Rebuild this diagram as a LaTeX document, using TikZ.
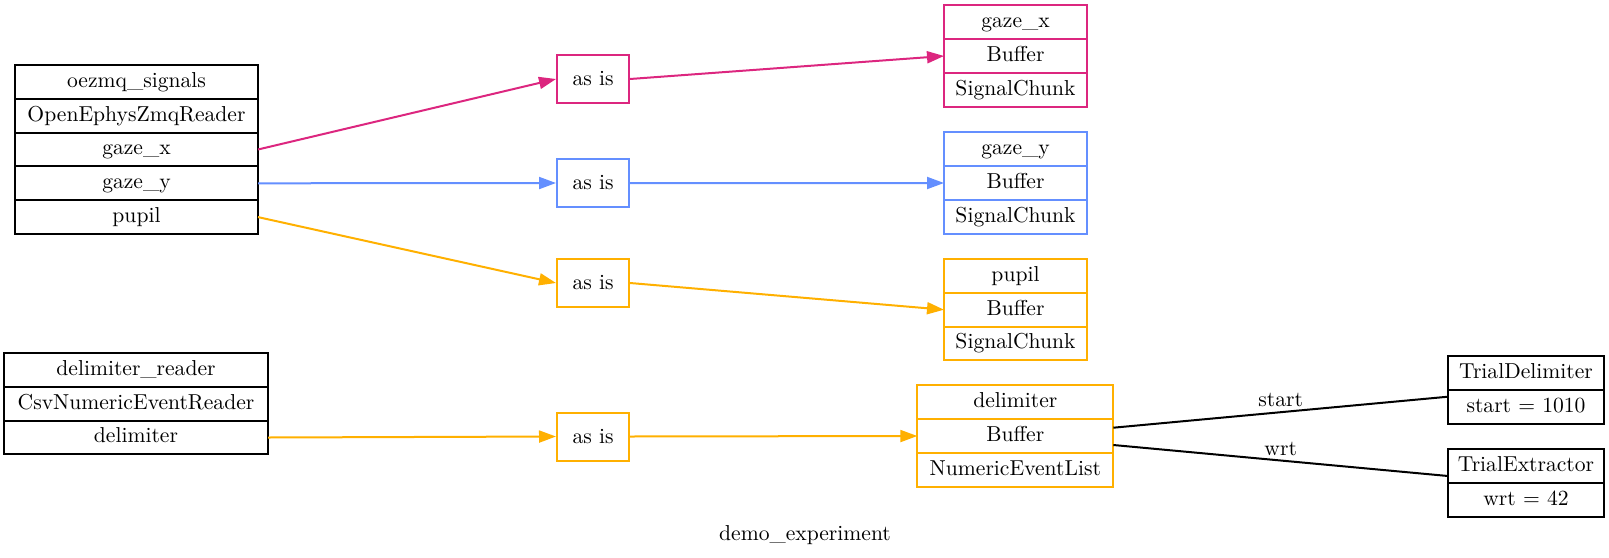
\documentclass[tikz,border=0pt]{standalone}
\usepackage{fontspec}
\usetikzlibrary{positioning, arrows.meta}
\definecolor{magentaline}{HTML}{DC267F}
\definecolor{blueline}{HTML}{648FFF}
\definecolor{orangeline}{HTML}{FFB000}
\newcommand{\recfont}{\fontsize{10.8}{13}\selectfont}

\begin{document}
\begin{tikzpicture}[x=0.5pt, y=-0.5pt,
    cell/.style={draw, line width=1pt, minimum height=16.9pt, inner sep=0pt, outer sep=0pt,
        text height=7.4pt, text depth=2.1pt, font=\recfont},
    asis/.style={draw, line width=1pt, minimum width=36pt, minimum height=24pt, inner sep=0pt, font=\recfont},
    link/.style={line width=1pt, -{Triangle[length=8.5pt, width=6pt]}},
    plain/.style={line width=1pt, black},
    lbl/.style={font=\recfont, inner sep=2pt}]
    \useasboundingbox (0,0) rectangle (1609,557);

    % readers
    \node[cell, minimum width=121.5pt] (oez) at (136.5,81.9) {oezmq\_signals};
    \node[cell, minimum width=121.5pt] (oez-type) [below=0pt of oez] {OpenEphysZmqReader};
    \node[cell, minimum width=121.5pt] (oez-gx) [below=0pt of oez-type] {gaze\_x};
    \node[cell, minimum width=121.5pt] (oez-gy) [below=0pt of oez-gx] {gaze\_y};
    \node[cell, minimum width=121.5pt] (oez-pu) [below=0pt of oez-gy] {pupil};

    \node[cell, minimum width=132pt] (dr) at (136,369.9) {delimiter\_reader};
    \node[cell, minimum width=132pt] (dr-type) [below=0pt of dr] {CsvNumericEventReader};
    \node[cell, minimum width=132pt] (dr-dl) [below=0pt of dr-type] {delimiter};

    % routes
    \node[asis, draw=magentaline] (asis-gx) at (593,79) {as is};
    \node[asis, draw=blueline] (asis-gy) at (593,183) {as is};
    \node[asis, draw=orangeline] (asis-pu) at (593,283) {as is};
    \node[asis, draw=orangeline] (asis-dl) at (593,436.5) {as is};

    % buffers
    \node[cell, draw=magentaline, minimum width=71.5pt] (gx) at (1015.5,22.2) {gaze\_x};
    \node[cell, draw=magentaline, minimum width=71.5pt] (gx-buf) [below=0pt of gx] {Buffer};
    \node[cell, draw=magentaline, minimum width=71.5pt] (gx-type) [below=0pt of gx-buf] {SignalChunk};

    \node[cell, draw=blueline, minimum width=71.5pt] (gy) at (1015.5,149.2) {gaze\_y};
    \node[cell, draw=blueline, minimum width=71.5pt] (gy-buf) [below=0pt of gy] {Buffer};
    \node[cell, draw=blueline, minimum width=71.5pt] (gy-type) [below=0pt of gy-buf] {SignalChunk};

    \node[cell, draw=orangeline, minimum width=71.5pt] (pu) at (1015.5,275.9) {pupil};
    \node[cell, draw=orangeline, minimum width=71.5pt] (pu-buf) [below=0pt of pu] {Buffer};
    \node[cell, draw=orangeline, minimum width=71.5pt] (pu-type) [below=0pt of pu-buf] {SignalChunk};

    \node[cell, draw=orangeline, minimum width=98pt] (dl) at (1015.3,402.2) {delimiter};
    \node[cell, draw=orangeline, minimum width=98pt] (dl-buf) [below=0pt of dl] {Buffer};
    \node[cell, draw=orangeline, minimum width=98pt] (dl-type) [below=0pt of dl-buf] {NumericEventList};

    % trial
    \node[cell, minimum width=78pt] (td) at (1526,373.2) {TrialDelimiter};
    \node[cell, minimum width=78pt] (td-arg) [below=0pt of td] {start = 1010};
    \node[cell, minimum width=78pt] (te) at (1526,466.2) {TrialExtractor};
    \node[cell, minimum width=78pt] (te-arg) [below=0pt of te] {wrt = 42};

    \node[font=\recfont] (graphlabel) at (805,535) {demo\_experiment};

    \path[link, magentaline]
    (oez-gx.east) edge (asis-gx.west)
    (asis-gx.east) edge (gx-buf.west);
    \path[link, blueline]
    (oez-gy.east) edge (asis-gy.west)
    (asis-gy.east) edge (gy-buf.west);
    \path[link, orangeline]
    (oez-pu.east) edge (asis-pu.west)
    (asis-pu.east) edge (pu-buf.west)
    (dr-dl.east) edge (asis-dl.west)
    (asis-dl.east) edge (dl-buf.west);
    \path[plain]
    ([yshift=4.15pt]dl-buf.east) edge node[lbl, above] {start} ([yshift=5.15pt]td-arg.west)
    ([yshift=-4.5pt]dl-buf.east) edge node[lbl, above] {wrt} ([yshift=-4.9pt]te.west);
\end{tikzpicture}
\end{document}
